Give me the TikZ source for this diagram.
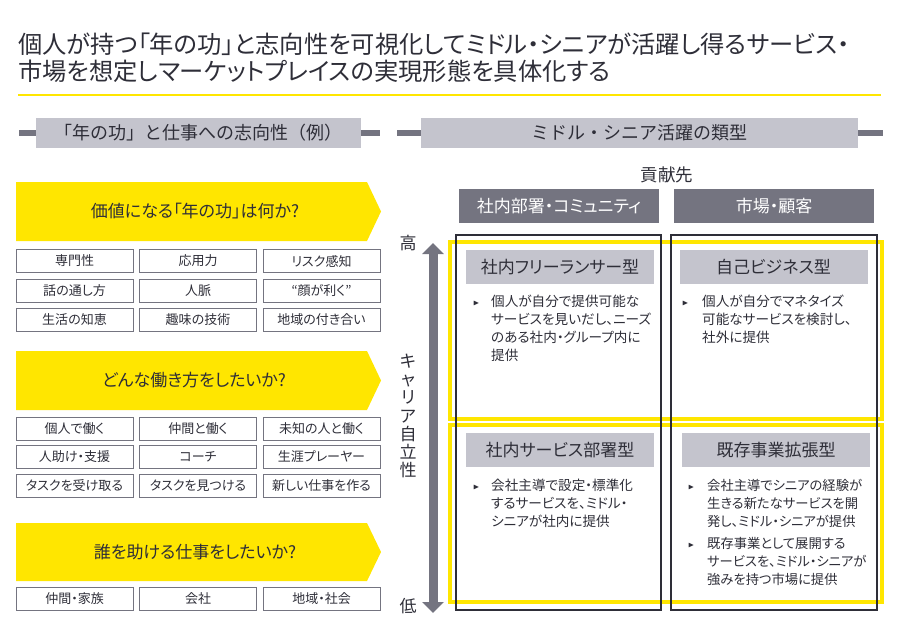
\documentclass[tikz,border=0pt]{standalone}
\usepackage{fontspec}
\setmainfont{Noto Sans CJK JP}[RawFeature=+palt]
\newfontfamily\fullw{Noto Sans CJK JP}
\usepackage{amssymb}
\usepackage{tikz}
\usetikzlibrary{arrows.meta}
\definecolor{eyyellow}{HTML}{FFE600}
\definecolor{eydark}{HTML}{2E2E38}
\definecolor{eygray}{HTML}{747480}
\definecolor{eylight}{HTML}{C4C4CD}
\newcommand{\bul}{\hspace{3pt}\raisebox{1pt}{\scalebox{0.6}{$\blacktriangleright$}}}

\begin{document}
\begin{tikzpicture}[x=1pt,y=-1pt]
	\tikzstyle{every node} = [inner sep=0pt, text=eydark]
	\tikzstyle{kbox} = [draw=eygray, line width=1pt, minimum width=117pt, minimum height=23pt, font=\fontsize{13}{15}\selectfont]
	\tikzstyle{hdr} = [fill=eylight, minimum height=30pt, font=\fullw\fontsize{18}{20}\selectfont]
	\tikzstyle{colhdr} = [fill=eygray, text=white, minimum width=200pt, minimum height=34pt, font=\fontsize{17}{19}\selectfont]
	\tikzstyle{typelbl} = [fill=eylight, minimum width=188pt, minimum height=34pt, font=\fontsize{17}{19}\selectfont]
	\tikzstyle{banner} = [fill=eyyellow]
	\tikzstyle{qtext} = [font=\fontsize{17}{19}\selectfont]
	\tikzstyle{bullets} = [anchor=north west, align=left, font=\fontsize{13.6}{18}\selectfont]
	\tikzstyle{bar} = [draw=eygray, line width=6.5pt]
	\useasboundingbox (0,0) rectangle (902,630);

% title
\node[anchor=base west, font=\fontsize{24.3}{28}\selectfont] (t1) at (18, 53.5) {個人が持つ「年の功」と志向性を可視化してミドル・シニアが活躍し得るサービス・};
\node[anchor=base west, font=\fontsize{24.3}{28}\selectfont] (t2) at (18, 80.5) {市場を想定しマーケットプレイスの実現形態を具体化する};
\coordinate (r0) at (18, 95);
\coordinate (r1) at (881, 95);
	\path[draw=eyyellow, line width=2pt] (r0) -- (r1);

% section headers
\node[hdr, minimum width=325pt] (hL) at (198.5, 133) {「年の功」と仕事への志向性（例）};
\node[hdr, minimum width=437pt] (hR) at (639.5, 133) {ミドル・シニア活躍の類型};
	\path[bar] (hL.west) -- ++(-17,0);
	\path[bar] (hL.east) -- ++(19,0);
	\path[bar] (hR.west) -- ++(-24,0);
	\path[bar] (hR.east) -- ++(25,0);

% left: questions
	\path[banner] (16,182) -- (367,182) -- (381,211.5) -- (367,241) -- (16,241) -- cycle;
	\path[banner] (16,351) -- (367,351) -- (381,380.5) -- (367,410) -- (16,410) -- cycle;
	\path[banner] (16,523) -- (367,523) -- (381,552) -- (367,581) -- (16,581) -- cycle;
\node[qtext] (q1) at (195, 211.5) {価値になる「年の功」は何か?};
\node[qtext] (q2) at (194, 380.5) {どんな働き方をしたいか?};
\node[qtext] (q3) at (195, 552) {誰を助ける仕事をしたいか?};

\node[kbox] (a1) at (74.5, 261) {専門性};
\node[kbox] (a2) at (198, 261) {応用力};
\node[kbox] (a3) at (321.5, 261) {リスク感知};
\node[kbox] (a4) at (74.5, 290.5) {話の通し方};
\node[kbox] (a5) at (198, 290.5) {人脈};
\node[kbox] (a6) at (321.5, 290.5) {“顔が利く”};
\node[kbox] (a7) at (74.5, 319.5) {生活の知恵};
\node[kbox] (a8) at (198, 319.5) {趣味の技術};
\node[kbox] (a9) at (321.5, 319.5) {地域の付き合い};

\node[kbox] (b1) at (74.5, 429) {個人で働く};
\node[kbox] (b2) at (198, 429) {仲間と働く};
\node[kbox] (b3) at (321.5, 429) {未知の人と働く};
\node[kbox] (b4) at (74.5, 457) {人助け・支援};
\node[kbox] (b5) at (198, 457) {コーチ};
\node[kbox] (b6) at (321.5, 457) {生涯プレーヤー};
\node[kbox] (b7) at (74.5, 485.5) {タスクを受け取る};
\node[kbox] (b8) at (198, 485.5) {タスクを見つける};
\node[kbox] (b9) at (321.5, 485.5) {新しい仕事を作る};

\node[kbox] (c1) at (74.5, 599) {仲間・家族};
\node[kbox] (c2) at (198, 599) {会社};
\node[kbox] (c3) at (321.5, 599) {地域・社会};

% right: matrix
\node[font=\fontsize{17.5}{19}\selectfont] (kouken) at (667, 175) {貢献先};
\node[colhdr] (col1) at (559, 206) {社内部署・コミュニティ};
\node[colhdr] (col2) at (774, 206) {市場・顧客};

	\path[draw=eyyellow, line width=4pt] (449.7,241.5) rectangle (882,418.7);
	\path[draw=eyyellow, line width=4pt] (449.7,425.3) rectangle (882,602);
	\path[draw=eydark, line width=2pt] (456.2,234.5) rectangle (660.5,610.2);
	\path[draw=eydark, line width=2pt] (671.2,234.5) rectangle (877,610.2);

\node[typelbl] (y1) at (560, 267) {社内フリーランサー型};
\node[typelbl] (y2) at (773.5, 267) {自己ビジネス型};
\node[typelbl] (y3) at (560, 450) {社内サービス部署型};
\node[typelbl] (y4) at (776, 450) {既存事業拡張型};

\node[bullets] (d1) at (470, 294) {\begin{tabular}{@{}p{21pt}@{}l@{}}
\bul & 個人が自分で提供可能な\\ & サービスを見いだし、ニーズ\\ & のある社内・グループ内に\\ & 提供\end{tabular}};
\node[bullets] (d2) at (679, 294) {\begin{tabular}{@{}p{23pt}@{}l@{}}
\bul & 個人が自分でマネタイズ\\ & 可能なサービスを検討し、\\ & 社外に提供\end{tabular}};
\node[bullets] (d3) at (470, 478) {\begin{tabular}{@{}p{21pt}@{}l@{}}
\bul & 会社主導で設定・標準化\\ & するサービスを、ミドル・\\ & シニアが社内に提供\end{tabular}};
\node[bullets, font=\fontsize{13.3}{18}\selectfont] (d4) at (685, 478) {\begin{tabular}{@{}p{22pt}@{}l@{}}
\bul & 会社主導でシニアの経験が\\ & 生きる新たなサービスを開\\ & 発し、ミドル・シニアが提供\\[4pt]
\bul & 既存事業として展開する\\ & サービスを、ミドル・シニアが\\ & 強みを持つ市場に提供\end{tabular}};

% axis
\coordinate (hi) at (433, 243);
\coordinate (lo) at (433, 613);
	\path[draw=eygray, line width=9pt, {Triangle[width=21pt,length=11pt]}-{Triangle[width=21pt,length=11pt]}] (hi) -- (lo);
\node[font=\fontsize{17}{19}\selectfont] (high) at (408, 243) {高};
\node[font=\fontsize{17}{19}\selectfont] (low) at (408, 606) {低};
\node[align=center, font=\fontsize{17}{18.2}\selectfont] (axis) at (408, 416) {キ\\ャ\\リ\\ア\\自\\立\\性};
	\end{tikzpicture}
\end{document}
